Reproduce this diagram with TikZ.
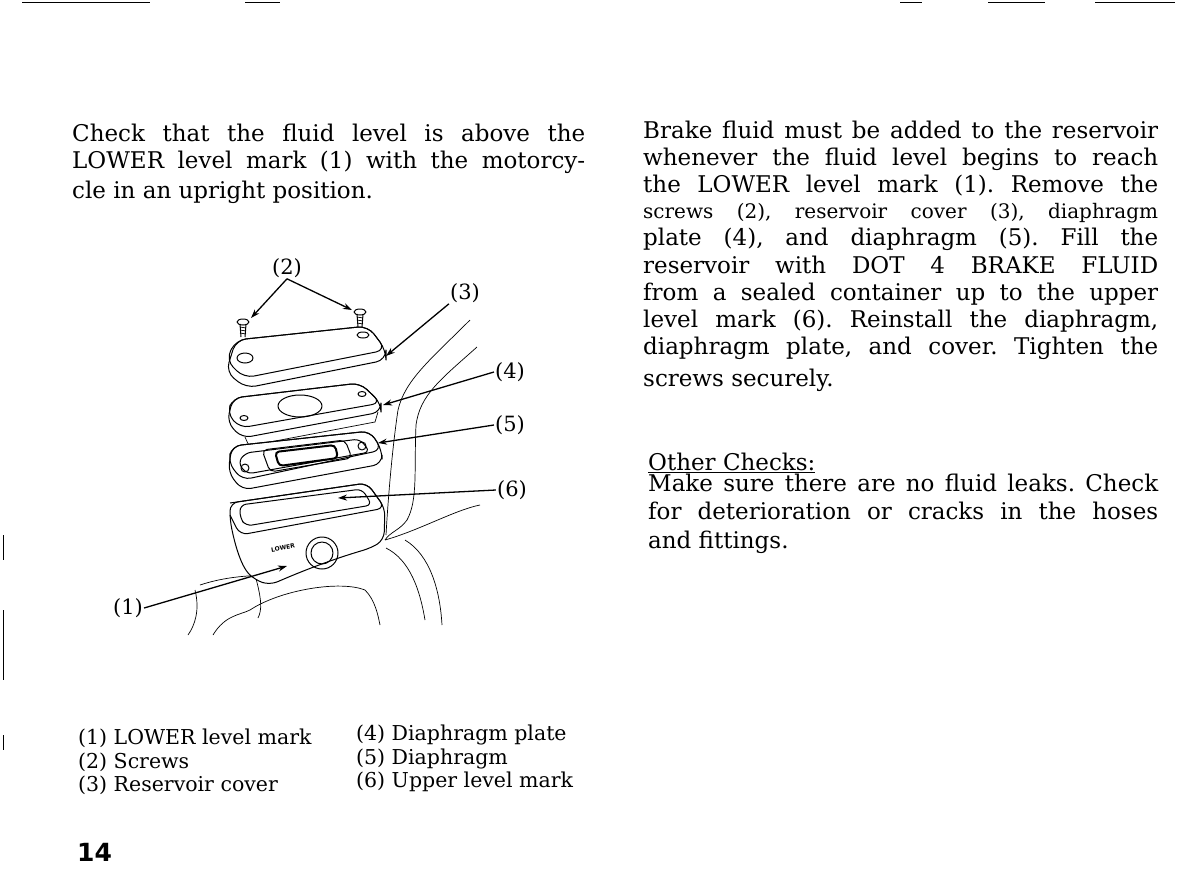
\documentclass[tikz,border=0pt]{standalone}
\usepackage{fontspec}
\setmainfont{DejaVu Serif}
\setsansfont{DejaVu Sans}
\frenchspacing
\usetikzlibrary{arrows.meta}
\begin{document}
\begin{tikzpicture}[x=1pt,y=-1pt,
  body/.style={font=\frenchspacing\fontsize{23}{27}\selectfont,anchor=base west,inner sep=0},
  small/.style={font=\frenchspacing\fontsize{20}{24}\selectfont,anchor=base west,inner sep=0},
  leg/.style={font=\fontsize{20.5}{24}\selectfont,anchor=base west,inner sep=0},
  lbl/.style={font=\fontsize{21}{22}\selectfont,inner sep=1pt},
  arr/.style={-{Stealth[length=9pt,width=6pt]},line width=1.3pt},
  part/.style={line width=1pt,line join=round},
  bg/.style={line width=0.7pt}]
\useasboundingbox (0,0) rectangle (1200,895);
% page marks
\draw[line width=1pt] (22,2)--(150,2) (245,2)--(280,2) (900,2)--(922,2) (988,2)--(1045,2) (1095,2)--(1175,2);
\draw[line width=0.7pt] (3,535)--(3,560) (3,610)--(3,680) (3,735)--(3,750);
% left text
\node[body] (l1) at (72,141) {\makebox[513pt][s]{Check that the fluid level is above the}};
\node[body] (l2) at (72,168) {\makebox[513pt][s]{LOWER level mark (1) with the motorcy-}};
\node[body] (l3) at (72,198) {cle in an upright position.};
% right text
\node[body] (r1) at (643,138) {\makebox[515pt][s]{Brake fluid must be added to the reservoir}};
\node[body] (r2) at (643,165) {\makebox[515pt][s]{whenever the fluid level begins to reach}};
\node[body] (r3) at (643,192) {\makebox[515pt][s]{the LOWER level mark (1). Remove the}};
\node[small] (r4) at (643,218) {\makebox[515pt][s]{screws (2), reservoir cover (3), diaphragm}};
\node[body] (r5) at (643,245) {\makebox[515pt][s]{plate (4), and diaphragm (5). Fill the}};
\node[body] (r6) at (643,273) {\makebox[515pt][s]{reservoir with DOT 4 BRAKE FLUID}};
\node[body] (r7) at (643,300) {\makebox[515pt][s]{from a sealed container up to the upper}};
\node[body] (r8) at (643,327) {\makebox[515pt][s]{level mark (6). Reinstall the diaphragm,}};
\node[body] (r9) at (643,354) {\makebox[515pt][s]{diaphragm plate, and cover. Tighten the}};
\node[body] (r10) at (643,386) {screws securely.};
\node[body] (oc) at (648,470) {\underline{Other Checks:}};
\node[body] (m1) at (648,491) {\makebox[510pt][s]{Make sure there are no fluid leaks. Check}};
\node[body] (m2) at (648,519) {\makebox[510pt][s]{for deterioration or cracks in the hoses}};
\node[body] (m3) at (648,548) {and fittings.};
% legend
\node[leg] (g1) at (78,744) {(1) LOWER level mark};
\node[leg] (g2) at (78,768) {(2) Screws};
\node[leg] (g3) at (78,791) {(3) Reservoir cover};
\node[leg] (g4) at (356,740) {(4) Diaphragm plate};
\node[leg] (g5) at (356,764) {(5) Diaphragm};
\node[leg] (g6) at (356,787) {(6) Upper level mark};
\node[anchor=base west,inner sep=0,font=\sffamily\bfseries\fontsize{25}{26}\selectfont] (pg) at (77,861) {14};
% background handlebar
\draw[bg] (470,320) .. controls (430,360) and (405,380) .. (398,410) .. controls (392,450) and (388,500) .. (386,535);
\draw[bg] (477,347) .. controls (440,380) and (420,395) .. (416,425) .. controls (414,470) and (418,500) .. (407,520) .. controls (400,530) and (390,532) .. (385,540);
\draw[bg] (385,540) .. controls (420,530) and (455,510) .. (480,505);
\draw[bg] (386,548) .. controls (410,560) and (420,590) .. (425,620);
\draw[bg] (405,540) .. controls (430,555) and (440,590) .. (442,625);
\draw[bg] (200,585) .. controls (230,575) and (260,575) .. (285,575);
\draw[bg] (195,590) .. controls (200,610) and (195,625) .. (188,635);
\draw[bg] (213,635) .. controls (225,615) and (240,615) .. (250,610) .. controls (280,590) and (340,580) .. (365,590) .. controls (375,600) and (378,615) .. (380,625);
\draw[bg] (255,575) .. controls (262,600) and (262,610) .. (258,618);
% screws
\foreach \sx/\sy in {243/322, 360/312}{
  \draw[part,fill=white] (\sx,\sy) ellipse (6pt and 3pt);
  \draw[part] (\sx-3,\sy+2)--(\sx-2,\sy+15) (\sx+3,\sy+2)--(\sx+2,\sy+15);
  \foreach \k in {5,8,11} \draw[bg] (\sx-3,\sy+\k)--(\sx+3,\sy+\k+1);
}
% cover (3)
\draw[part,rounded corners=10pt,fill=white] (236,340)--(368,326)--(386,350)--(386,360)--(246,388)--(226,372)--cycle;
\draw[part,rounded corners=10pt] (236,340)--(368,326)--(386,350)--(244,378)--(226,360)--cycle;
\draw[part] (245,358) ellipse (8pt and 5pt);
\draw[part] (363,335) ellipse (6pt and 3pt);
% diaphragm plate (4)
\draw[part,rounded corners=9pt,fill=white] (233,398)--(360,383)--(381,403)--(381,412)--(242,438)--(227,422)--cycle;
\draw[part,rounded corners=9pt] (233,398)--(360,383)--(381,403)--(240,428)--(227,413)--cycle;
\draw[part] (300,406) ellipse (22pt and 11pt);
\draw[part] (244,418) ellipse (4pt and 2.5pt);
\draw[part] (362,394) ellipse (4pt and 2.5pt);
\draw[bg] (245,437)--(249,446)--(375,422)--(378,412);
% diaphragm (5)
\draw[part,rounded corners=9pt,fill=white] (232,446)--(370,431)--(382,450)--(382,464)--(242,490)--(228,472)--cycle;
\draw[part,rounded corners=9pt] (232,446)--(370,431)--(382,450)--(242,480)--(228,462)--cycle;
\draw[part,rounded corners=6pt] (245,453)--(360,439)--(370,452)--(247,474)--(238,463)--cycle;
\draw[part,rounded corners=5pt] (262,450)--(345,440)--(352,458)--(270,472)--cycle;
\draw[line width=2pt,rounded corners=4pt] (275,452)--(335,445)--(338,458)--(279,466)--cycle;
\draw[part] (362,446) circle (4pt);
\draw[part] (245,468) circle (4pt);
% reservoir body
\draw[part,fill=white,rounded corners=8pt] (230,503)--(367,483)--(385,508)--(384,540)--(371,548) .. controls (330,560) and (300,572) .. (270,585) -- (255,580) .. controls (240,565) and (234,540) .. (230,520)--cycle;
\draw[part,rounded corners=8pt] (230,503)--(367,483)--(385,508)--(240,535)--(230,515);
\draw[part,rounded corners=6pt] (240,505)--(362,489)--(372,505)--(246,526)--(240,518)--cycle;
\draw[part] (322,553) circle (16pt);
\draw[part] (322,553) circle (11pt);
\node[font=\sffamily\bfseries\fontsize{6}{7}\selectfont,rotate=10,inner sep=0] (lw) at (283,548) {LOWER};
% labels and arrows
\node[lbl] (n2) at (287,268) {(2)};
\node[lbl] (n3) at (465,293) {(3)};
\node[lbl] (n4) at (510,372) {(4)};
\node[lbl] (n5) at (510,425) {(5)};
\node[lbl] (n6) at (512,490) {(6)};
\node[lbl] (n1) at (128,608) {(1)};
\coordinate (s1) at (251,318);
\coordinate (s2) at (352,310);
\coordinate (c3) at (386,356);
\coordinate (c4) at (383,405);
\coordinate (c5) at (378,443);
\coordinate (c6) at (338,498);
\coordinate (c1) at (287,566);
\draw[arr] (n2.south) -- (s1);
\draw[arr] (n2.south) -- (s2);
\draw[arr] (n3.south west) -- (c3);
\draw[arr] (n4.west) -- (c4);
\draw[arr] (n5.west) -- (c5);
\draw[arr] (n6.west) -- (c6);
\draw[arr] (n1.east) -- (c1);
\end{tikzpicture}
\end{document}
